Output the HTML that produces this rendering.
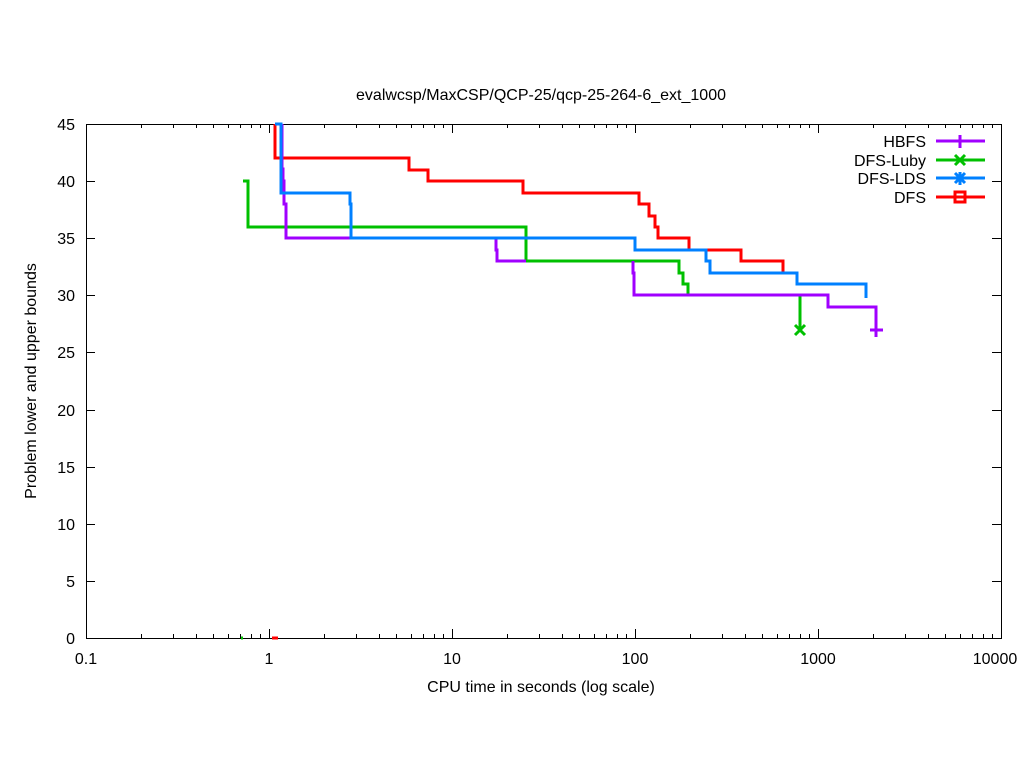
<!DOCTYPE html>
<html><head><style>body{margin:0;background:#fff}</style></head><body>
<svg width="1024" height="768" xmlns="http://www.w3.org/2000/svg" font-family="Liberation Sans, sans-serif" font-size="16">
<rect width="1024" height="768" fill="#fff"/>
<g stroke="#000" stroke-width="1" fill="none">
<rect x="86.5" y="124.5" width="915" height="514"/>
</g>
<g stroke="#000" stroke-width="1">
<path d="M86 581.5h9M86 524.5h9M86 467.5h9M86 410.5h9M86 352.5h9M86 295.5h9M86 238.5h9M86 181.5h9
M1001 581.5h-9M1001 524.5h-9M1001 467.5h-9M1001 410.5h-9M1001 352.5h-9M1001 295.5h-9M1001 238.5h-9M1001 181.5h-9"/>
<path d="M269.5 638v-9M452.5 638v-9M635.5 638v-9M818.5 638v-9M269.5 124v9M452.5 124v9M635.5 124v9M818.5 124v9"/>
<path d="M141.5 638v-4M173.5 638v-4M196.5 638v-4M213.5 638v-4M228.5 638v-4M240.5 638v-4M251.5 638v-4M260.5 638v-4
M324.5 638v-4M356.5 638v-4M379.5 638v-4M396.5 638v-4M411.5 638v-4M423.5 638v-4M434.5 638v-4M443.5 638v-4
M507.5 638v-4M539.5 638v-4M562.5 638v-4M579.5 638v-4M594.5 638v-4M606.5 638v-4M617.5 638v-4M626.5 638v-4
M690.5 638v-4M722.5 638v-4M745.5 638v-4M762.5 638v-4M777.5 638v-4M789.5 638v-4M800.5 638v-4M809.5 638v-4
M873.5 638v-4M905.5 638v-4M928.5 638v-4M945.5 638v-4M960.5 638v-4M972.5 638v-4M983.5 638v-4M992.5 638v-4
M141.5 124v4M173.5 124v4M196.5 124v4M213.5 124v4M228.5 124v4M240.5 124v4M251.5 124v4M260.5 124v4
M324.5 124v4M356.5 124v4M379.5 124v4M396.5 124v4M411.5 124v4M423.5 124v4M434.5 124v4M443.5 124v4
M507.5 124v4M539.5 124v4M562.5 124v4M579.5 124v4M594.5 124v4M606.5 124v4M617.5 124v4M626.5 124v4
M690.5 124v4M722.5 124v4M745.5 124v4M762.5 124v4M777.5 124v4M789.5 124v4M800.5 124v4M809.5 124v4
M873.5 124v4M905.5 124v4M928.5 124v4M945.5 124v4M960.5 124v4M972.5 124v4M983.5 124v4M992.5 124v4"/>
</g>
<g text-anchor="end">
<text x="75" y="644">0</text><text x="75" y="587">5</text><text x="75" y="530">10</text><text x="75" y="473">15</text>
<text x="75" y="416">20</text><text x="75" y="358">25</text><text x="75" y="301">30</text><text x="75" y="244">35</text>
<text x="75" y="187">40</text><text x="75" y="130">45</text>
</g>
<g text-anchor="middle">
<text x="86" y="664">0.1</text><text x="269" y="664">1</text><text x="452" y="664">10</text><text x="635" y="664">100</text>
<text x="818" y="664">1000</text><text x="995" y="664">10000</text>
<text x="541" y="692">CPU time in seconds (log scale)</text>
<text x="541" y="100">evalwcsp/MaxCSP/QCP-25/qcp-25-264-6_ext_1000</text>
<text transform="translate(36,381) rotate(-90)">Problem lower and upper bounds</text>
</g>
<g fill="none" stroke-width="3">
<path stroke="#ff0000" d="M275 124V158H409V170H428V181H523V193H639V204H649V216H655V227H658V238H689V250H741V261H783V272"/>
<path stroke="#00c000" d="M243 181H248V227H526V261H679V273H683V284H688V295H800V330"/>
<path stroke="#a000ff" d="M282 124V169H283V181H284V204H286V238H496V250H497V261H526M633 261V273H634V295H828V307H876V330"/>
<path stroke="#0080ff" d="M275 124H281V193H350V204H351V238H635V250H706V261H710V273H797V284H866V298"/>
<path stroke="#00c000" d="M241 638h2"/><path stroke="#ff0000" d="M272 638h6"/>
</g>
<g stroke-width="3" fill="none">
<path stroke="#00c000" d="M795 325l10 10M805 325l-10 10"/>
<path stroke="#a000ff" d="M870 330h13M876 323v14"/>
</g>
<g text-anchor="end">
<text x="926" y="147">HBFS</text><text x="926" y="166">DFS-Luby</text><text x="926" y="184">DFS-LDS</text><text x="926" y="203">DFS</text>
</g>
<g stroke-width="3" fill="none">
<path stroke="#a000ff" d="M936 141h49M960 135v13"/>
<path stroke="#00c000" d="M936 160h49M955 155l10 10M965 155l-10 10"/>
<path stroke="#0080ff" d="M936 178h49M955 173l10 10M965 173l-10 10M960 172v13"/>
<path stroke="#ff0000" d="M936 197h49"/><rect x="955" y="192" width="10" height="10" stroke="#ff0000"/>
</g>
</svg>
</body></html>
